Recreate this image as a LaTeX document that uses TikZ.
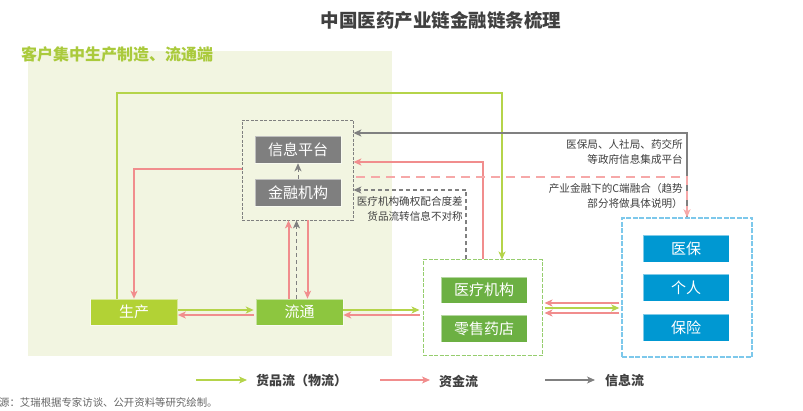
\documentclass[tikz,border=0pt]{standalone}
\usepackage{fontspec}
\setmainfont{Noto Sans CJK SC}
\usetikzlibrary{arrows.meta,calc}
\definecolor{bggreen}{RGB}{242,245,225}
\definecolor{lblgreen}{RGB}{170,202,60}
\definecolor{gline}{RGB}{181,212,74}
\definecolor{pline}{RGB}{241,141,141}
\definecolor{pdashc}{RGB}{246,168,168}
\definecolor{iline}{RGB}{128,128,128}
\definecolor{dark}{RGB}{64,64,64}
\definecolor{fillsc}{RGB}{178,210,53}
\definecolor{filllt}{RGB}{141,198,63}
\definecolor{fillyl}{RGB}{108,176,67}
\definecolor{fillbl}{RGB}{0,152,210}
\definecolor{fillgy}{RGB}{127,127,127}
\definecolor{medgreen}{RGB}{150,205,110}
\definecolor{lblue}{RGB}{125,200,235}
\begin{document}
\begin{tikzpicture}[x=1pt,y=-1pt,
  box/.style={minimum width=86pt,minimum height=27pt,inner sep=0pt,text=white,
    font=\fontsize{15}{15}\selectfont,draw=white,draw opacity=0.5,line width=0.6pt},
  tip/.style={-{Stealth[length=8pt,width=7pt,inset=2.2pt]}},
  gflow/.style={tip,draw=gline,line width=2pt},
  pflow/.style={tip,draw=pline,line width=2pt},
  iflow/.style={tip,draw=iline,line width=1.7pt},
  idash/.style={tip,draw=iline,line width=1.1pt,dash pattern=on 4pt off 3pt},
  pdash/.style={tip,draw=pdashc,line width=2.6pt,dash pattern=on 9pt off 6pt},
  lbl/.style={text=dark,font=\fontsize{10.6}{15}\selectfont,inner sep=0pt},
  legend/.style={text=dark,font=\bfseries\fontsize{13}{13}\selectfont,inner sep=0pt},
]
\useasboundingbox (0,0) rectangle (803,411);
\fill[white] (0,0) rectangle (803,411);
\fill[bggreen] (28,51) rectangle (392,356);

\node[text=dark,font=\bfseries\fontsize{18.5}{18.5}\selectfont,inner sep=0pt] (title) at (441,21) {中国医药产业链金融链条梳理};
\node[text=lblgreen,font=\bfseries\fontsize{16}{16}\selectfont,inner sep=0pt,anchor=west] (region) at (21,54) {客户集中生产制造、流通端};

% dashed containers
\node[draw=iline,line width=0.8pt,dash pattern=on 3pt off 1.5pt,minimum width=111pt,minimum height=100pt,inner sep=0pt] (infobox) at (297.5,170) {};
\node[draw=medgreen,line width=1pt,dash pattern=on 4pt off 1.5pt,minimum width=119pt,minimum height=96pt,inner sep=0pt] (medbox) at (482.5,308) {};
\node[draw=lblue,line width=1.4pt,dash pattern=on 5pt off 1.5pt,minimum width=130pt,minimum height=139pt,inner sep=0pt] (bluebox) at (687,287.5) {};

% filled boxes
\node[box,fill=fillgy] (xinxi) at (298,149.5) {信息平台};
\node[box,fill=fillgy] (jinrong) at (298,192.5) {金融机构};
\node[box,fill=fillsc,minimum width=87pt,minimum height=26pt] (shengchan) at (134,312) {生产};
\node[box,fill=filllt,minimum width=87pt,minimum height=26pt] (liutong) at (299.5,312) {流通};
\node[box,fill=fillyl,minimum height=26pt] (yiliao) at (484,290) {医疗机构};
\node[box,fill=fillyl] (lingshou) at (484,328.5) {零售药店};
\node[box,fill=fillbl] (yibao) at (686,248.5) {医保};
\node[box,fill=fillbl] (geren) at (686,287.5) {个人};
\node[box,fill=fillbl] (baoxian) at (686,327.5) {保险};

% inside info box
\draw[idash,line width=0.9pt] (jinrong.north) -- (xinxi.south);

% green loop: 生产 -> 医疗机构
\draw[gflow] ([xshift=-17pt]shengchan.north) |- (502,93) -- ([xshift=19.5pt]medbox.north);

% pink: info box -> 生产
\draw[pflow] (infobox.west |- 0,169) -| (shengchan.north);

% pink: 医疗机构 -> info box
\draw[pflow] (medbox.north) |- (infobox.east |- 0,162);

% gray dashed: 医疗机构 -> info box
\draw[idash] ([xshift=-16.5pt]medbox.north) |- (infobox.east |- 0,190);

% gray info: government platform -> info box
\draw[iflow] (bluebox.north) |- (infobox.east |- 0,133);
% pink dashed: C-end fusion
\draw[pdash] ([xshift=3pt]infobox.east |- 0,177) -| (bluebox.north);

% 流通 <-> info box
\draw[pflow] ([xshift=-11pt]liutong.north) -- ([xshift=-11pt]liutong.north |- infobox.south);
\draw[idash] ([xshift=-3pt]liutong.north) -- ([xshift=-3pt]liutong.north |- infobox.south);
\draw[pflow] ([xshift=8pt]liutong.north |- infobox.south) -- ([xshift=8pt]liutong.north);

% 生产 <-> 流通
\draw[gflow] ([yshift=2pt]shengchan.east) -- ([yshift=2pt,xshift=-2pt]liutong.west);
\draw[pflow] ([yshift=-3pt,xshift=-2pt]liutong.west) -- ([yshift=-3pt]shengchan.east);

% 流通 <-> medical
\draw[gflow] ([yshift=2pt]liutong.east) -- ([yshift=2pt,xshift=-3pt]liutong.east -| medbox.west);
\draw[pflow] ([yshift=-3pt,xshift=-3pt]liutong.east -| medbox.west) -- ([yshift=-3pt]liutong.east);

% medical <-> customer
\draw[pflow] ([xshift=-2pt]bluebox.west |- 0,303) -- ([xshift=2pt]medbox.east |- 0,303);
\draw[gflow] ([xshift=2pt]medbox.east |- 0,308) -- ([xshift=-2pt]bluebox.west |- 0,308);
\draw[pflow] ([xshift=-2pt]bluebox.west |- 0,313) -- ([xshift=2pt]medbox.east |- 0,313);

% labels
\node[lbl,anchor=east,align=right] (govtxt) at (683,151.5) {医保局、人社局、药交所\\等政府信息集成平台};
\node[lbl,anchor=east,align=right] (ctxt) at (683,195.5) {产业金融下的C端融合（趋势\\部分将做具体说明）};
\node[lbl,anchor=east,align=right] (asym) at (463,209) {医疗机构确权配合度差\\货品流转信息不对称};

% legend
\node[legend,anchor=west] (lt1) at (256,381) {货品流（物流）};
\coordinate (lg1) at (196,380);
\draw[gflow] (lg1) -- (247,380);
\node[legend,anchor=west] (lt2) at (439,381) {资金流};
\coordinate (lg2) at (380,380);
\draw[pflow] (lg2) -- (430,380);
\node[legend,anchor=west] (lt3) at (605,381) {信息流};
\coordinate (lg3) at (545,380);
\draw[iflow,line width=1.1pt] (lg3) -- (595,380);

\node[text=dark!80,font=\fontsize{10.4}{10.4}\selectfont,inner sep=0pt,anchor=west] (srctxt) at (-1,403) {源：艾瑞根据专家访谈、公开资料等研究绘制。};
\end{tikzpicture}
\end{document}
